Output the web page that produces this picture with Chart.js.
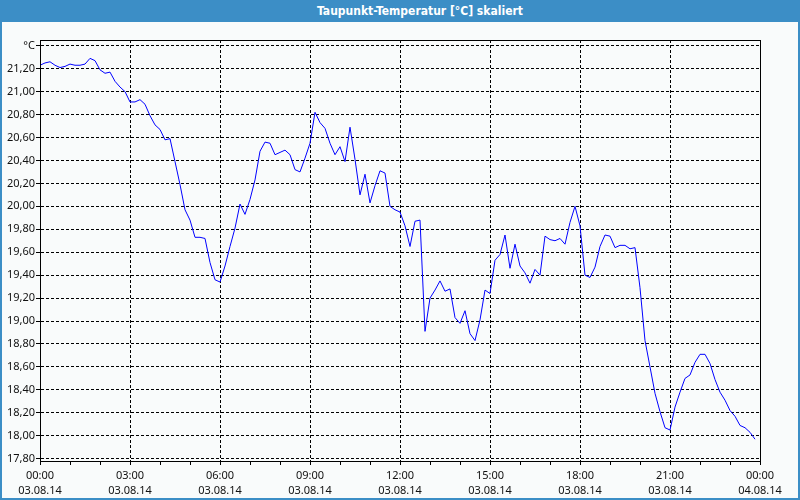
<!DOCTYPE html>
<html>
<head>
<meta charset="utf-8">
<script src="https://cdn.jsdelivr.net/npm/chart.js@4/dist/chart.umd.min.js"></script>
<style>
    html, body { margin: 0; padding: 0; background: #f9fbfb; }
    #wrap { position: relative; width: 800px; height: 500px; overflow: hidden; }
    #title {
        position: absolute; left: 0; top: 0; width: 800px; height: 22px;
        background: #3c8ec6; color: #fff; box-sizing: border-box; padding-left: 40px;
        font: bold 12px "DejaVu Sans Condensed", "DejaVu Sans", sans-serif; font-stretch: condensed;
        line-height: 22px; text-align: center;
    }
    #chart { position: absolute; left: 0; top: 0; }
    .edge { position: absolute; background: #3c8ec6; }
</style>
</head>
<body>
<div id="wrap">
    <canvas id="chart" width="800" height="500"></canvas>
    <div id="title">Taupunkt-Temperatur [°C] skaliert</div>
    <div class="edge" style="left:0;top:0;width:2px;height:500px"></div>
    <div class="edge" style="right:0;top:0;width:2px;height:500px"></div>
    <div class="edge" style="left:0;bottom:0;width:800px;height:2px"></div>
</div>
<script>
// Messwerte alle 10 Minuten, 03.08.14 00:00 bis 23:50
const sampleMinutes = 10;
const temps = [
    21.23, 21.25, 21.26, 21.23, 21.21, 21.22, 21.24, 21.23, 21.23, 21.24,
    21.29, 21.27, 21.19, 21.16, 21.17, 21.09, 21.04, 21.00, 20.91, 20.91,
    20.93, 20.89, 20.79, 20.71, 20.67, 20.58, 20.59, 20.39, 20.19, 19.97,
    19.88, 19.73, 19.73, 19.72, 19.51, 19.36, 19.34, 19.48, 19.65, 19.81,
    20.02, 19.93, 20.06, 20.23, 20.48, 20.56, 20.55, 20.45, 20.47, 20.49,
    20.45, 20.32, 20.30, 20.42, 20.55, 20.82, 20.73, 20.68, 20.55, 20.45,
    20.52, 20.39, 20.69, 20.41, 20.10, 20.28, 20.03, 20.18, 20.31, 20.29,
    20.00, 19.97, 19.95, 19.83, 19.65, 19.87, 19.88, 18.91, 19.20, 19.27,
    19.35, 19.26, 19.28, 19.03, 18.98, 19.09, 18.89, 18.83, 19.01, 19.27,
    19.24, 19.53, 19.58, 19.75, 19.46, 19.67, 19.48, 19.42, 19.33, 19.45,
    19.40, 19.74, 19.71, 19.70, 19.72, 19.67, 19.86, 20.00, 19.83, 19.40,
    19.38, 19.47, 19.65, 19.75, 19.74, 19.64, 19.66, 19.66, 19.63, 19.64,
    19.29, 18.83, 18.60, 18.37, 18.21, 18.07, 18.05, 18.25, 18.38, 18.50,
    18.53, 18.64, 18.71, 18.71, 18.63, 18.49, 18.38, 18.31, 18.22, 18.17,
    18.09, 18.07, 18.03, 17.97
];

// Achsenbeschriftungen
const xTimes = ['00:00', '03:00', '06:00', '09:00', '12:00', '15:00', '18:00', '21:00', '00:00'];
const xDates = ['03.08.14', '03.08.14', '03.08.14', '03.08.14', '03.08.14', '03.08.14', '03.08.14', '03.08.14', '04.08.14'];
const yTicks = [17.8, 18.0, 18.2, 18.4, 18.6, 18.8, 19.0, 19.2, 19.4, 19.6, 19.8, 20.0, 20.2, 20.4, 20.6, 20.8, 21.0, 21.2, 21.4];
const yUnit = '°C';

const points = temps.map((t, i) => ({ x: i * sampleMinutes / 60, y: t }));

// Rahmen oben/rechts um die Zeichenfläche
const frame = {
    id: 'frame',
    afterDraw(chart) {
        const { ctx, chartArea: a } = chart;
        ctx.save();
        ctx.strokeStyle = '#000';
        ctx.lineWidth = 1;
        ctx.strokeRect(Math.round(a.left) + 0.5, Math.round(a.top) + 0.5,
            Math.round(a.right - a.left), Math.round(a.bottom - a.top));
        ctx.restore();
    }
};

Chart.defaults.font.family = '"Noto Sans", sans-serif';
Chart.defaults.font.size = 11;
Chart.defaults.color = '#111';

new Chart(document.getElementById('chart'), {
    type: 'line',
    data: {
        datasets: [{
            data: points,
            borderColor: '#0000ff',
            borderWidth: 1,
            pointRadius: 0,
            tension: 0,
            fill: false
        }]
    },
    options: {
        responsive: false,
        animation: false,
        layout: { padding: { left: 0, right: 40, top: 40, bottom: 0 } },
        plugins: { legend: { display: false }, tooltip: { enabled: false } },
        scales: {
            x: {
                type: 'linear',
                min: 0,
                max: 24,
                afterFit: s => { s.height = 39; },
                ticks: {
                    stepSize: 1,
                    autoSkip: false,
                    maxRotation: 0,
                    padding: 3,
                    font: { lineHeight: 1.36 },
                    callback: v => v % 3 === 0 ? [xTimes[v / 3], xDates[v / 3]] : ''
                },
                grid: {
                    color: c => (c.tick && c.tick.value % 3 === 0) ? '#000' : 'rgba(0,0,0,0)',
                    tickColor: '#000',
                    tickLength: 4,
                    tickBorderDash: []
                },
                border: { color: '#000', dash: [3, 2] }
            },
            y: {
                min: 17.78,
                max: 21.45,
                afterFit: s => { s.width = 40; },
                afterBuildTicks: s => { s.ticks = yTicks.map(v => ({ value: v })); },
                ticks: {
                    padding: 1,
                    callback: v => v > 21.3 ? yUnit : v.toFixed(2).replace('.', ',')
                },
                grid: {
                    color: '#000',
                    tickColor: '#000',
                    tickLength: 4,
                    tickBorderDash: []
                },
                border: { color: '#000', dash: [3, 2] }
            }
        }
    },
    plugins: [frame]
});
</script>
</body>
</html>
